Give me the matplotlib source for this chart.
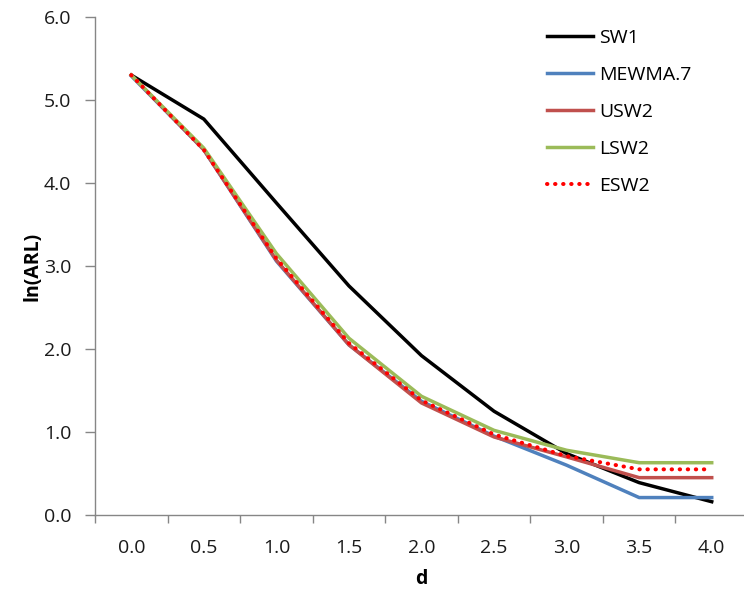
import matplotlib
matplotlib.use("Agg")
import matplotlib.pyplot as plt
import numpy as np

plt.rcParams['font.family'] = ['Open Sans', 'DejaVu Sans']

d_labels = ['0.0', '0.5', '1.0', '1.5', '2.0', '2.5', '3.0', '3.5', '4.0']

sw1 = [5.30, 4.77, 3.76, 2.76, 1.92, 1.25, 0.74, 0.39, 0.16]
mewma7 = [5.29, 4.40, 3.06, 2.05, 1.37, 0.95, 0.60, 0.21, 0.21]
usw2 = [5.30, 4.40, 3.07, 2.05, 1.35, 0.94, 0.70, 0.45, 0.45]
lsw2 = [5.30, 4.42, 3.15, 2.13, 1.43, 1.02, 0.78, 0.63, 0.63]
esw2 = [5.30, 4.40, 3.09, 2.07, 1.38, 0.97, 0.71, 0.55, 0.55]

x = np.arange(len(d_labels))

fig = plt.figure(figsize=(7.44, 5.96), dpi=100)
ax = fig.add_axes([95 / 744, 1 - 515 / 596, 653 / 744, 498 / 596])

lw = 2.5
ax.plot(x, sw1, color='black', lw=lw, label='SW1', solid_joinstyle='round')
ax.plot(x, mewma7, color='#4F81BD', lw=lw, label='MEWMA.7', solid_joinstyle='round')
ax.plot(x, usw2, color='#C0504D', lw=lw, label='USW2', solid_joinstyle='round')
ax.plot(x, lsw2, color='#9BBB59', lw=lw, label='LSW2', solid_joinstyle='round')
ax.plot(x, esw2, color='#FF0000', lw=2.9, ls=(0, (0.1, 1.9)), dash_capstyle='round',
        label='ESW2')

ax.set_xlim(-0.5, len(d_labels) - 0.5)
ax.set_ylim(0, 6)
ax.set_yticks(np.arange(0, 6.5, 1.0))
ax.set_yticklabels([f'{v:.1f}' for v in np.arange(0, 6.5, 1.0)])

# labels on categories, tick marks between them
ax.set_xticks(x)
ax.set_xticklabels(d_labels)
ax.set_xticks(np.arange(-0.5, len(d_labels), 1.0), minor=True)
ax.tick_params(axis='x', which='major', length=0, pad=17, labelsize=14, colors='#1a1a1a')
ax.tick_params(axis='x', which='minor', length=6, direction='out', color='#868686', width=1)
ax.tick_params(axis='y', length=7, direction='out', color='#868686', width=1,
               pad=10, labelsize=14, labelcolor='#1a1a1a')

for s in ['top', 'right']:
    ax.spines[s].set_visible(False)
for s in ['left', 'bottom']:
    ax.spines[s].set_color('#868686')
    ax.spines[s].set_linewidth(1)

ax.set_xlabel('d', fontsize=14, fontweight='bold', labelpad=9)
ax.set_ylabel('ln(ARL)', fontsize=14, fontweight='bold', labelpad=1)

ax.legend(loc='upper left', bbox_to_anchor=(0.68, 0.991), frameon=False, fontsize=14,
          handlelength=2.4, handletextpad=0.3, labelspacing=0.97, borderaxespad=0)

fig.savefig('out.png', dpi=100)
